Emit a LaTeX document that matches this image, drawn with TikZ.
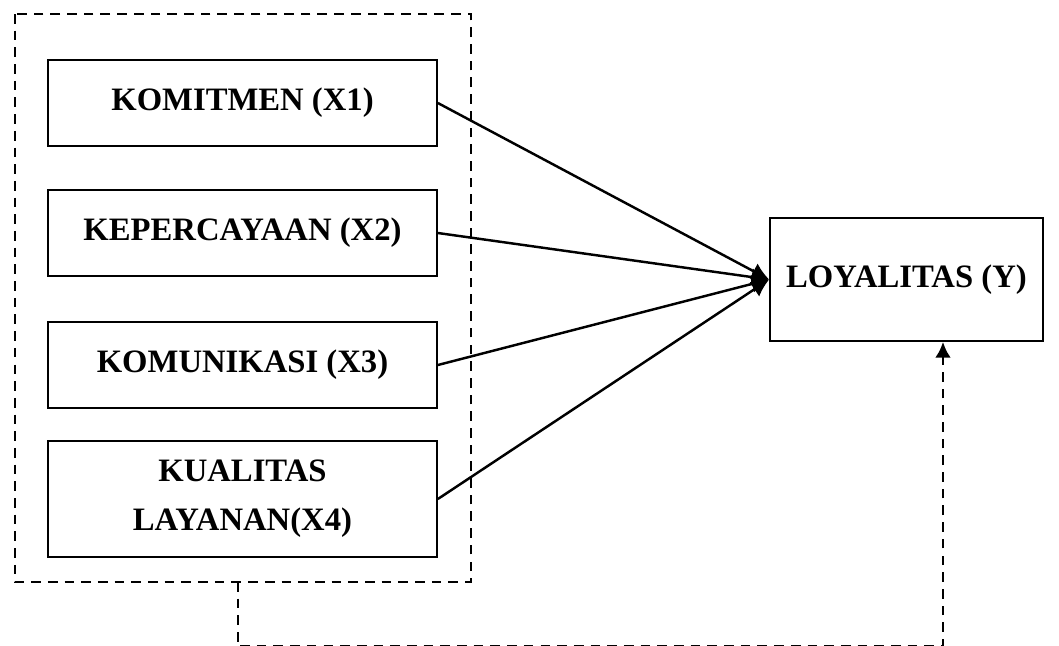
\documentclass[tikz,border=0pt]{standalone}
\usepackage{fontspec}
\setmainfont{Liberation Serif}
\usepackage{tikz}
\usetikzlibrary{arrows.meta}

\tikzset{
  var/.style={draw,line width=1pt,minimum width=389*0.02cm,minimum height=86*0.02cm,
    align=center,font=\bfseries\fontsize{18.6}{28}\selectfont},
  grp/.style={draw,line width=1.6pt,dash pattern=on 5.5pt off 4pt},
  link/.style={line width=1.4pt,-{Latex[length=10pt,width=10pt]}},
}

\begin{document}
\begin{tikzpicture}[x=0.02cm,y=-0.02cm]
        \useasboundingbox (0,0) rectangle (1059,646);
        %group
        \draw[grp] (15,14) rectangle (471,582);
        \coordinate (gs) at (238,582);

        %variables
        \node[var] (x1) at (242.5,103){KOMITMEN (X1)};
        \node[var] (x2) at (242.5,233){KEPERCAYAAN (X2)};
        \node[var] (x3) at (242.5,365){KOMUNIKASI (X3)};
        \node[var,minimum height=116*0.02cm] (x4) at (242.5,499){KUALITAS\\LAYANAN(X4)};
        \node[var,minimum width=273*0.02cm,minimum height=123*0.02cm] (y) at (906.5,279.5){LOYALITAS (Y)};

        \draw[link] (x1.east)--(y.west);
        \draw[link] (x2.east)--(y.west);
        \draw[link] (x3.east)--(y.west);
        \draw[link] (x4.east)--(y.west);

        %moderation
        \coordinate (bend) at (238,646.7);
        \coordinate (yin) at (943,646.7);
        \draw[grp,-{Latex[length=9pt,width=9pt]}] (gs)--(bend)-|(y.south -| yin);
\end{tikzpicture}
\end{document}
